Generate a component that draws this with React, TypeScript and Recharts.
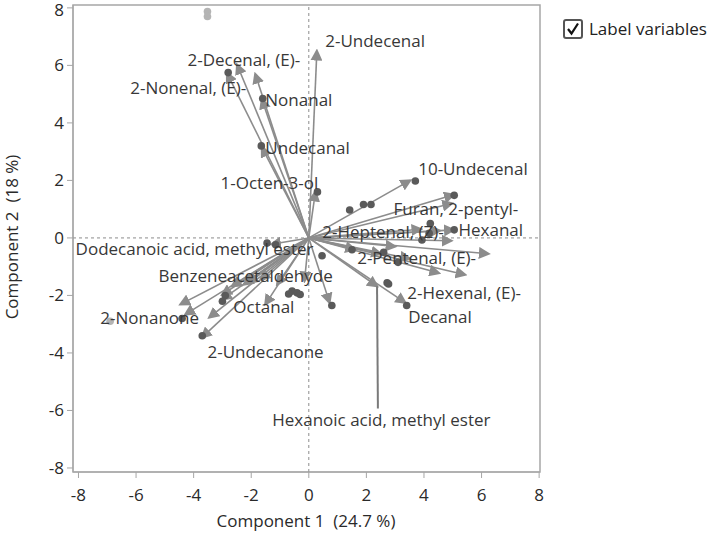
import React from 'react';
import { ScatterChart, Scatter, XAxis, YAxis, ReferenceLine, ReferenceArea } from 'recharts';

// ---------- data ----------
const axisTicks = [-8, -6, -4, -2, 0, 2, 4, 6, 8];

// loading vectors (arrow tips), from the origin
const loadings = [
  { name: '2-Undecenal', x: 0.28, y: 6.5 },
  { name: '2-Decenal, (E)-', x: -2.49, y: 6.02 },
  { name: '2-Nonenal, (E)-', x: -2.84, y: 5.73 },
  { name: 'v4', x: -1.86, y: 5.7 },
  { name: 'Nonanal', x: -1.63, y: 4.82 },
  { name: 'Undecanal', x: -1.63, y: 3.15 },
  { name: '1-Octen-3-ol', x: 0.23, y: 1.6 },
  { name: '10-Undecenal', x: 3.52, y: 2.0 },
  { name: 'Furan, 2-pentyl-', x: 5.03, y: 1.5 },
  { name: 'v10', x: 4.97, y: 1.2 },
  { name: 'Hexanal', x: 5.03, y: 0.28 },
  { name: 'v12', x: 4.95, y: -0.1 },
  { name: '2-Heptenal, (Z)-', x: 4.55, y: 0.25 },
  { name: 'v14', x: 3.9, y: 0.3 },
  { name: '2-Pentenal, (E)-', x: 6.24, y: -0.55 },
  { name: 'v16', x: 3.0, y: -0.3 },
  { name: 'v17', x: 3.5, y: -0.72 },
  { name: '2-Hexenal, (E)-', x: 5.43, y: -1.28 },
  { name: 'v19', x: 4.52, y: -1.22 },
  { name: 'Decanal', x: 3.35, y: -2.25 },
  { name: 'Hexanoic acid, methyl ester', x: 2.37, y: -1.68 },
  { name: 'v22', x: 0.72, y: -2.25 },
  { name: 'v23', x: -4.46, y: -2.31 },
  { name: '2-Nonanone', x: -4.29, y: -2.66 },
  { name: 'v25', x: -3.46, y: -2.77 },
  { name: '2-Undecanone', x: -3.71, y: -3.46 },
  { name: 'v27', x: -3.01, y: -1.97 },
  { name: 'v28', x: -3.01, y: -2.14 },
  { name: 'v29', x: -2.67, y: -1.68 },
  { name: 'v30', x: -2.26, y: -1.62 },
  { name: 'Benzeneacetaldehyde', x: -2.09, y: -1.56 },
  { name: 'v32', x: -1.68, y: -1.45 },
  { name: 'Octanal', x: -1.51, y: -2.31 },
  { name: 'v34', x: -1.1, y: -1.62 },
  { name: 'Dodecanoic acid, methyl ester', x: -1.3, y: -0.22 },
  { name: 'v36', x: -0.15, y: -1.5 },
  { name: 'v37', x: 1.6, y: -0.4 },
  { name: 'v38', x: 2.5, y: -0.55 },
];

// observation scores (dark points)
const scores = [
  { x: -2.8, y: 5.75 }, { x: -1.6, y: 4.85 }, { x: -1.65, y: 3.2 }, { x: 0.3, y: 1.6 },
  { x: 3.7, y: 1.98 }, { x: 5.05, y: 1.48 }, { x: 1.42, y: 0.97 }, { x: 1.9, y: 1.16 },
  { x: 2.16, y: 1.16 }, { x: 4.22, y: 0.5 }, { x: 3.93, y: -0.07 }, { x: 4.18, y: 0.16 },
  { x: 5.05, y: 0.28 }, { x: 2.72, y: -1.56 }, { x: 2.77, y: -1.6 }, { x: 3.4, y: -2.35 },
  { x: 0.46, y: -0.62 }, { x: 0.8, y: -2.35 }, { x: -0.58, y: -1.85 }, { x: -0.41, y: -1.91 },
  { x: -0.3, y: -1.97 }, { x: -0.7, y: -1.95 }, { x: -1.45, y: -0.18 }, { x: -1.15, y: -0.24 },
  { x: -2.9, y: -2.0 }, { x: -3.0, y: -2.2 }, { x: -4.4, y: -2.8 }, { x: -3.7, y: -3.4 },
  { x: 1.5, y: -0.41 }, { x: 2.6, y: -0.5 }, { x: 3.1, y: -0.85 },
];

// light grey points
const lightScores = [
  { x: -3.52, y: 7.87 }, { x: -3.52, y: 7.7 }, { x: -6.9, y: -2.9 },
];

// variable labels (position of text, data units)
const labels = [
  { text: '2-Undecenal', x: 0.57, y: 6.83, anchor: 'start' },
  { text: '2-Decenal, (E)-', x: -0.3, y: 6.2, anchor: 'end' },
  { text: '2-Nonenal, (E)-', x: -2.17, y: 5.21, anchor: 'end' },
  { text: 'Nonanal', x: -1.51, y: 4.79, anchor: 'start' },
  { text: 'Undecanal', x: -1.51, y: 3.14, anchor: 'start' },
  { text: '1-Octen-3-ol', x: 0.33, y: 1.9, anchor: 'end' },
  { text: '10-Undecenal', x: 3.8, y: 2.41, anchor: 'start' },
  { text: 'Furan, 2-pentyl-', x: 2.94, y: 1.0, anchor: 'start' },
  { text: '2-Heptenal, (Z)-', x: 0.47, y: 0.2, anchor: 'start' },
  { text: 'Hexanal', x: 5.2, y: 0.28, anchor: 'start' },
  { text: '2-Pentenal, (E)-', x: 1.68, y: -0.69, anchor: 'start' },
  { text: '2-Hexenal, (E)-', x: 3.42, y: -1.93, anchor: 'start' },
  { text: 'Decanal', x: 3.45, y: -2.76, anchor: 'start' },
  { text: 'Hexanoic acid, methyl ester', x: 2.52, y: -6.34, anchor: 'middle' },
  { text: 'Dodecanoic acid, methyl ester', x: -8.1, y: -0.38, anchor: 'start' },
  { text: 'Benzeneacetaldehyde', x: -5.22, y: -1.31, anchor: 'start' },
  { text: 'Octanal', x: -2.62, y: -2.41, anchor: 'start' },
  { text: '2-Nonanone', x: -7.24, y: -2.79, anchor: 'start' },
  { text: '2-Undecanone', x: -3.52, y: -3.97, anchor: 'start' },
];

// leader line from a moved label to its arrow
const leader = [{ x: 2.37, y: -1.68 }, { x: 2.4, y: -5.93 }];

// ---------- component ----------
const FONT = "'Open Sans', sans-serif";
const ARROW = '#8c8c8c';

const Dot = (p: any) => <circle cx={p.cx} cy={p.cy} r={3.8} fill={p.fillColor} />;
const LabelShape = (p: any) => (
  <text x={p.cx} y={p.cy} dy="0.35em" textAnchor={p.payload.anchor} fontSize={17} fill="#383838" fontFamily={FONT}>
    {p.payload.text}
  </text>
);

export default function App() {
  return (
    <div style={{ position: 'absolute', left: 0, top: 0, width: 708, height: 533, background: '#fff', fontFamily: FONT }}>
      <svg width={0} height={0} style={{ position: 'absolute' }}>
        <defs>
          <marker id="ah" viewBox="0 0 10 10" refX="8" refY="5" markerWidth="12" markerHeight="12" markerUnits="userSpaceOnUse" orient="auto">
            <path d="M0,0 L10,5 L0,10 z" fill={ARROW} />
          </marker>
        </defs>
      </svg>
      <ScatterChart width={708} height={533} margin={{ top: 5, right: 168, bottom: 31, left: 13 }}>
        <XAxis type="number" dataKey="x" domain={[-8.19, 8.03]} ticks={axisTicks} height={30}
          allowDataOverflow tickSize={6} tickMargin={11} stroke="#a6a6a6"
          tick={{ fontSize: 17, fill: '#2a2a2a', fontFamily: FONT }} tickLine={{ stroke: '#a6a6a6' }} />
        <YAxis type="number" dataKey="y" domain={[-8.14, 8.1]} ticks={axisTicks} width={60}
          allowDataOverflow tickSize={6} tickMargin={3} stroke="#a6a6a6"
          tick={{ fontSize: 17, fill: '#2a2a2a', fontFamily: FONT }} tickLine={{ stroke: '#a6a6a6' }} />
        <ReferenceArea x1={-8.19} x2={8.03} y1={-8.14} y2={8.1} fill="none" stroke="#a6a6a6" strokeWidth={1.5} ifOverflow="visible" />
        <ReferenceLine x={0} stroke="#8c8c8c" strokeDasharray="3 3" />
        <ReferenceLine y={0} stroke="#8c8c8c" strokeDasharray="3 3" />
        {loadings.map((l) => (
          <ReferenceLine key={l.name} segment={[{ x: 0, y: 0 }, { x: l.x, y: l.y }]} stroke={ARROW} strokeWidth={1.6} markerEnd="url(#ah)" />
        ))}
        <ReferenceLine segment={leader} stroke="#7a7a7a" strokeWidth={2} />
        <Scatter data={lightScores} isAnimationActive={false} shape={(p: any) => <Dot {...p} fillColor="#b4b4b4" />} />
        <Scatter data={scores} isAnimationActive={false} shape={(p: any) => <Dot {...p} fillColor="#5a5a5a" />} />
        <Scatter data={labels} isAnimationActive={false} shape={LabelShape} />
      </ScatterChart>
      <svg width={708} height={533} style={{ position: 'absolute', left: 0, top: 0, pointerEvents: 'none' }}>
        <text x={306} y={527} textAnchor="middle" fontSize={17} fill="#2a2a2a" fontFamily={FONT}>Component 1{'\u00a0\u00a0'}(24.7 %)</text>
        <text x={18} y={237} textAnchor="middle" fontSize={17} fill="#2a2a2a" fontFamily={FONT} transform="rotate(-90 18 237)">Component 2{'\u00a0\u00a0'}(18 %)</text>
      </svg>
      <div style={{ position: 'absolute', left: 563, top: 19, width: 16, height: 16, border: '2px solid #555', borderRadius: 3, background: '#fff' }}>
        <svg width={16} height={16} style={{ position: 'absolute', left: 0, top: 0 }}>
          <path d="M3,8 L6.5,12.5 L13,2.5" fill="none" stroke="#111" strokeWidth={2.2} />
        </svg>
      </div>
      <div style={{ position: 'absolute', left: 589, top: 17, fontSize: 17, color: '#222', fontFamily: FONT, whiteSpace: 'nowrap', lineHeight: '24px' }}>Label variables</div>
    </div>
  );
}
